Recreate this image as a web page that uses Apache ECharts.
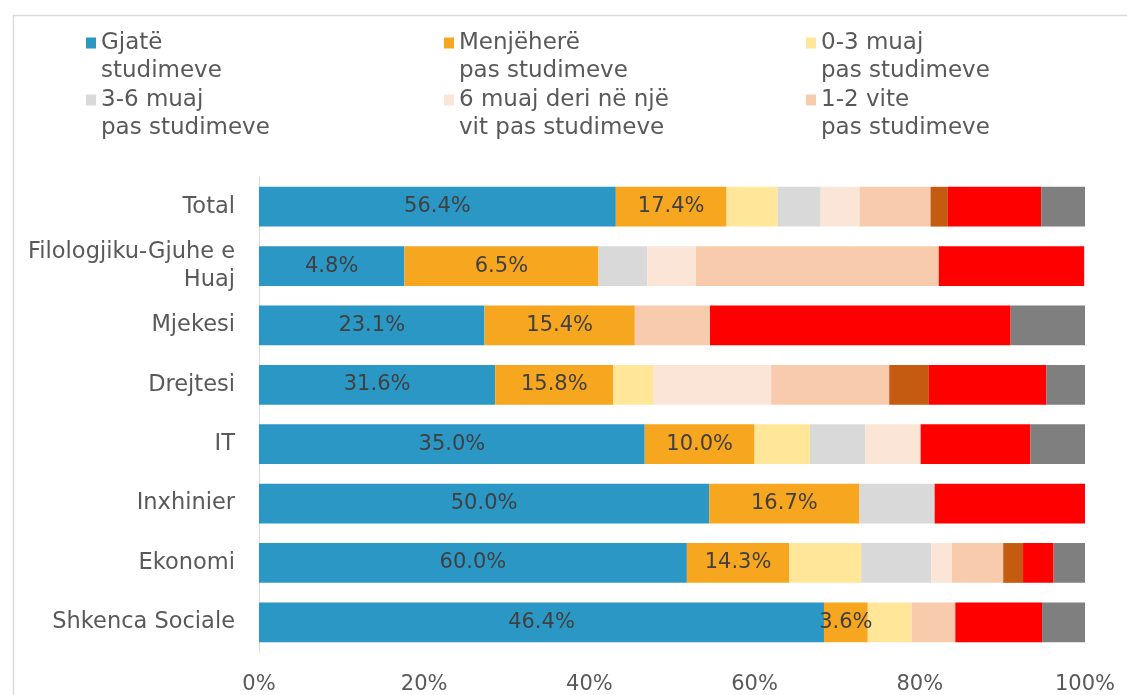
<!DOCTYPE html>
<html>
<head>
<meta charset="utf-8">
<script src="https://cdn.jsdelivr.net/npm/echarts@6/dist/echarts.min.js"></script>
<style>
  html, body { margin: 0; padding: 0; background: #ffffff; }
  #chart { width: 1127px; height: 695px; }
</style>
</head>
<body>
<div id="chart"></div>
<script>
// ---- Data ----
const categories = ['Total', 'Filologjiku-Gjuhe e Huaj', 'Mjekesi', 'Drejtesi', 'IT', 'Inxhinier', 'Ekonomi', 'Shkenca Sociale'];

const seriesNames = [
  'Gjatë studimeve',
  'Menjëherë pas studimeve',
  '0-3 muaj pas studimeve',
  '3-6 muaj pas studimeve',
  '6 muaj deri në një vit pas studimeve',
  '1-2 vite pas studimeve',
  'Mbi 2 vite pas studimeve',
  'Ende pa punë',
  'Tjetër'
];

const legendText = [
  'Gjatë\nstudimeve',
  'Menjëherë\npas studimeve',
  '0-3 muaj\npas studimeve',
  '3-6 muaj\npas studimeve',
  '6 muaj deri në një\nvit pas studimeve',
  '1-2 vite\npas studimeve'
];

const gjateStudimeve      = [43.2, 17.6, 27.3, 28.6, 46.7, 54.5, 51.8, 68.4];
const menjehere           = [13.4, 23.5, 18.2, 14.3, 13.3, 18.2, 12.4, 5.3];
const muaj0_3             = [6.2, 0, 0, 4.8, 6.7, 0, 8.7, 5.3];
const muaj3_6             = [5.2, 5.9, 0, 0, 6.7, 9.1, 8.5, 0];
const muaj6_vit           = [4.7, 5.9, 0, 14.3, 6.7, 0, 2.5, 0];
const vite1_2             = [8.6, 29.4, 9.1, 14.3, 0, 0, 6.2, 5.3];
const mbi2Vite            = [2.1, 0, 0, 4.8, 0, 0, 2.4, 0];
const endePaPune          = [11.3, 17.6, 36.4, 14.2, 13.3, 18.2, 3.7, 10.5];
const tjeter              = [5.3, 0, 9.0, 4.7, 6.6, 0, 3.8, 5.2];

const gjateLabels     = ['56.4%', '4.8%', '23.1%', '31.6%', '35.0%', '50.0%', '60.0%', '46.4%'];
const menjehereLabels = ['17.4%', '6.5%', '15.4%', '15.8%', '10.0%', '16.7%', '14.3%', '3.6%'];

const xTicks = [0, 20, 40, 60, 80, 100];

// ---- Styles ----
const FONT = 'DejaVu Sans';
const colors = ['#2B97C5', '#F7A71F', '#FFE699', '#D9D9D9', '#FBE5D6', '#F8CBAD', '#C55A11', '#FF0000', '#7F7F7F'];
const values = [gjateStudimeve, menjehere, muaj0_3, muaj3_6, muaj6_vit, vite1_2, mbi2Vite, endePaPune, tjeter];
const labelSets = [gjateLabels, menjehereLabels];

const legendMap = {};
legendText.forEach((t, i) => { legendMap[seriesNames[i]] = t; });

const series = values.map((arr, i) => ({
  name: seriesNames[i],
  type: 'bar',
  stack: 'total',
  barCategoryGap: '33%',
  itemStyle: { color: colors[i] },
  emphasis: { disabled: true },
  label: labelSets[i] ? {
    show: true,
    position: 'inside',
    color: '#404040',
    fontFamily: FONT,
    fontSize: 21,
    formatter: p => labelSets[i][p.dataIndex]
  } : { show: false },
  data: arr
}));

const legendBase = {
  orient: 'vertical',
  top: 1,
  padding: 0,
  itemGap: -27,
  itemWidth: 10,
  itemHeight: 11,
  icon: 'rect',
  selectedMode: false,
  // leading empty line keeps the icon aligned with the first text line
  formatter: name => '\n' + legendMap[name],
  textStyle: {
    color: '#595959',
    fontFamily: FONT,
    fontSize: 23,
    lineHeight: 28
  }
};

const chart = echarts.init(document.getElementById('chart'), null, { renderer: 'canvas' });
chart.setOption({
  animation: false,
  backgroundColor: '#ffffff',
  graphic: [{
    type: 'rect',
    left: 11, top: 13,
    shape: { width: 1300, height: 900 },
    style: { fill: 'none', stroke: '#D9D9D9', lineWidth: 1.5 },
    silent: true, z: -10
  }],
  legend: [
    Object.assign({}, legendBase, { left: 86, data: [seriesNames[0], seriesNames[3]] }),
    Object.assign({}, legendBase, { left: 444, data: [seriesNames[1], seriesNames[4]] }),
    Object.assign({}, legendBase, { left: 806, data: [seriesNames[2], seriesNames[5]] })
  ],
  grid: { left: 259, right: 42, top: 177, bottom: 43, containLabel: false },
  xAxis: {
    type: 'value',
    min: xTicks[0],
    max: xTicks[xTicks.length - 1],
    interval: xTicks[1] - xTicks[0],
    axisLine: { show: false },
    axisTick: { show: false },
    splitLine: { show: false },
    axisLabel: {
      color: '#595959',
      fontFamily: FONT,
      fontSize: 21,
      margin: 22,
      formatter: '{value}%'
    }
  },
  yAxis: {
    type: 'category',
    inverse: true,
    data: categories,
    axisLine: { show: true, lineStyle: { color: '#D9D9D9', width: 1 } },
    axisTick: { show: false },
    axisLabel: {
      color: '#595959',
      fontFamily: FONT,
      fontSize: 22.5,
      lineHeight: 28,
      margin: 24,
      formatter: v => v.replace(' Huaj', '\nHuaj')
    }
  },
  series: series
});
</script>
</body>
</html>
